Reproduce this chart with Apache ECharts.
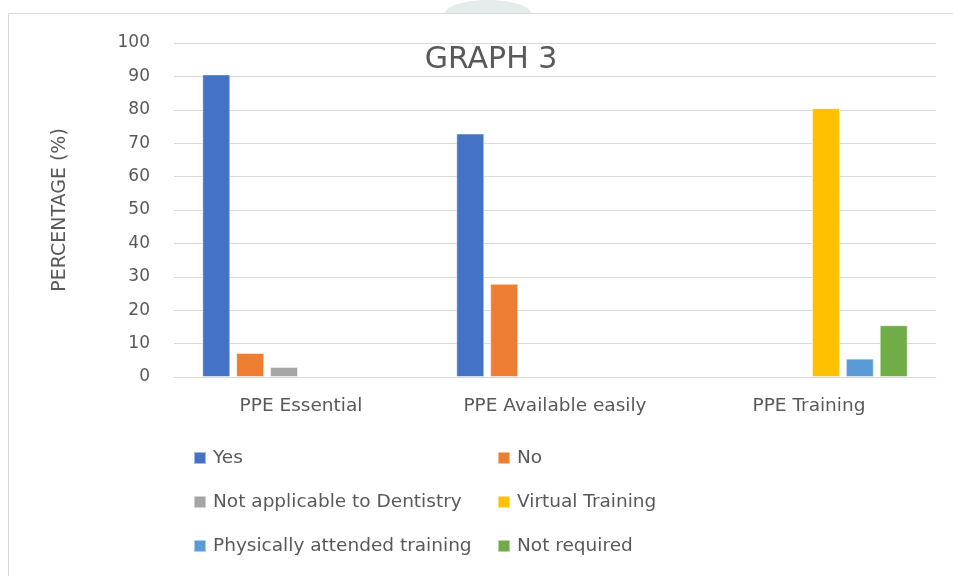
<!DOCTYPE html>
<html>
<head>
<meta charset="utf-8">
<script src="https://cdn.jsdelivr.net/npm/echarts@6/dist/echarts.min.js"></script>
<style>
  html, body { margin: 0; padding: 0; background: #ffffff; }
  #chart { width: 953px; height: 576px; }
</style>
</head>
<body>
<div id="chart"></div>
<script>
// Categories on the x axis
const categories = ['PPE Essential', 'PPE Available easily', 'PPE Training'];

// Response percentages per category (null = not asked for that item)
const yesValues        = [90.6, 72.9, null];
const noValues         = [7.2, 27.9, null];
const notApplicable    = [3.0, null, null];
const virtualTraining  = [null, null, 80.5];
const physicalTraining = [null, null, 5.5];
const notRequired      = [null, null, 15.5];

const seriesNames = [
  'Yes', 'No', 'Not applicable to Dentistry',
  'Virtual Training', 'Physically attended training', 'Not required'
];
const seriesValues = [yesValues, noValues, notApplicable, virtualTraining, physicalTraining, notRequired];
const seriesColors = ['#4472C4', '#ED7D31', '#A5A5A5', '#FFC000', '#5B9BD5', '#70AD47'];

const yTicks = [0, 10, 20, 30, 40, 50, 60, 70, 80, 90, 100];

const textColor = '#595959';
const fontFamily = '"DejaVu Sans", "Noto Sans", sans-serif';

const chart = echarts.init(document.getElementById('chart'), null, { renderer: 'canvas' });

const legendCommon = {
  orient: 'vertical',
  icon: 'rect',
  itemWidth: 12,
  itemHeight: 12,
  itemGap: 24,
  selectedMode: false,
  textStyle: { color: textColor, fontSize: 18.5, lineHeight: 20, fontFamily: fontFamily, padding: [0, 0, 0, 2] }
};

chart.setOption({
  animation: false,
  backgroundColor: '#ffffff',
  graphic: [
    {
      // faint emblem peeking over the frame
      type: 'ellipse',
      shape: { cx: 488, cy: 14, rx: 43, ry: 14 },
      style: { fill: '#e2e7e9', opacity: 0.85 },
      silent: true,
      z: -2
    },
    {
      type: 'rect',
      shape: { x: 0, y: 14, width: 953, height: 18 },
      style: { fill: '#ffffff' },
      silent: true,
      z: -1
    },
    {
      type: 'rect',
      shape: { x: 8.5, y: 13.5, width: 1000, height: 700 },
      style: { fill: 'none', stroke: '#d9d9d9', lineWidth: 1 },
      silent: true,
      z: 0
    }
  ],
  title: {
    text: 'GRAPH 3',
    left: 486,
    textAlign: 'center',
    top: 40,
    textStyle: { color: textColor, fontSize: 30, fontWeight: 'normal', fontFamily: fontFamily }
  },
  legend: [
    Object.assign({}, legendCommon, {
      left: 188, top: 443,
      data: [seriesNames[0], seriesNames[2], seriesNames[4]]
    }),
    Object.assign({}, legendCommon, {
      left: 492, top: 443,
      data: [seriesNames[1], seriesNames[3], seriesNames[5]]
    })
  ],
  grid: { left: 174, right: 17, top: 43, bottom: 199, containLabel: false },
  xAxis: {
    type: 'category',
    data: categories,
    axisLine: { show: true, lineStyle: { color: '#d9d9d9', width: 1 } },
    axisTick: { show: false },
    axisLabel: { color: textColor, fontSize: 18.5, fontFamily: fontFamily, margin: 20 }
  },
  yAxis: {
    type: 'value',
    min: yTicks[0],
    max: yTicks[yTicks.length - 1],
    interval: 10,
    name: 'PERCENTAGE (%)',
    nameLocation: 'middle',
    nameGap: 104,
    nameTextStyle: { color: textColor, fontSize: 19, fontFamily: fontFamily },
    axisLine: { show: false },
    axisTick: { show: false },
    axisLabel: { color: textColor, fontSize: 17, fontFamily: fontFamily, margin: 24 },
    splitLine: { lineStyle: { color: '#d9d9d9', width: 1 } }
  },
  series: seriesNames.map((name, i) => ({
    name: name,
    type: 'bar',
    data: seriesValues[i],
    barWidth: 28,
    barGap: '21%',
    itemStyle: { color: seriesColors[i], borderColor: 'rgba(255,255,255,0.5)', borderWidth: 1 }
  }))
});
</script>
</body>
</html>
